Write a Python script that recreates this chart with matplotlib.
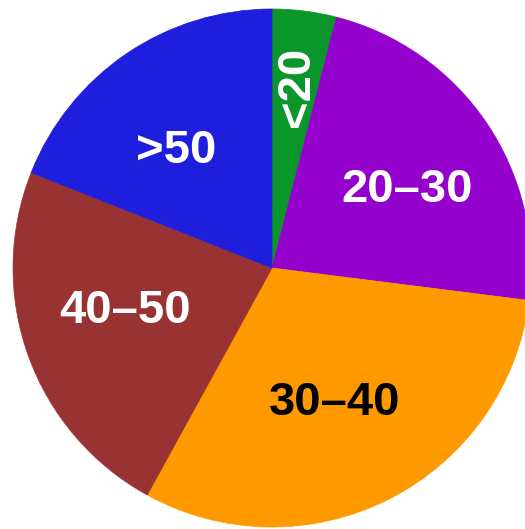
import matplotlib.pyplot as plt

labels = ['<20', '20–30', '30–40', '40–50', '>50']
shares = [4, 23, 31, 23, 19]
colors = ['#0a962a', '#9400cc', '#ff9900', '#993333', '#1e1edc']
text_colors = ['white', 'white', 'black', 'white', 'white']
# label centres as fractions of the radius, relative to the pie centre
label_xy = [(0.097, 0.70), (0.521, 0.30), (0.243, -0.52), (-0.568, -0.165), (-0.371, 0.45)]

fig = plt.figure(figsize=(5.25, 5.29), dpi=100)
ax = fig.add_axes([0, 0, 1, 1])

# pie drawn in pixel-sized data units so it runs off the right edge like the original
cx, cy, r = 272, 529 - 268, 259
wedges, _ = ax.pie(shares, colors=colors, startangle=90, counterclock=False,
                   center=(cx, cy), radius=r,
                   wedgeprops=dict(linewidth=0))
for w, c in zip(wedges, colors):
    w.set_edgecolor(c)
    w.set_linewidth(0.5)

for lab, tc, (fx, fy) in zip(labels, text_colors, label_xy):
    rot = 90 if lab == '<20' else 0
    ax.text(cx + fx * r, cy + fy * r, lab, color=tc, fontsize=34, fontweight='bold',
            family='Liberation Sans', ha='center', va='center', rotation=rot)

ax.set_xlim(0, 525)
ax.set_ylim(0, 529)
ax.set_aspect('equal')
ax.axis('off')

fig.savefig('out.png', dpi=100)
